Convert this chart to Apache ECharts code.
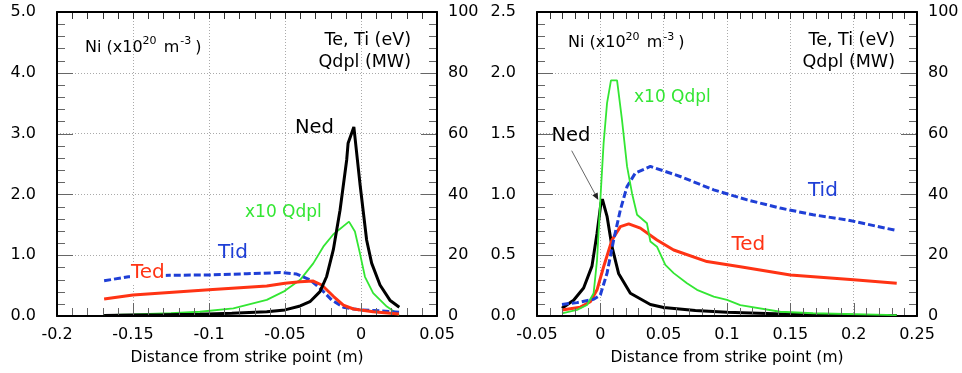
<!DOCTYPE html>
<html><head><meta charset="utf-8">
<script src="https://cdn.jsdelivr.net/npm/echarts@6/dist/echarts.min.js"></script>
<style>html,body{margin:0;padding:0;background:#fff}#c{width:962px;height:373px}</style>
</head><body><div id="c"></div>
<script>
const FONT = '"DejaVu Sans", Verdana, sans-serif';

// ---------- Left panel data: [distance (m), value] ----------
const nedLeft = [[-0.169,0.01],[-0.15,0.015],[-0.13,0.02],[-0.106,0.03],[-0.085,0.045],[-0.062,0.07],[-0.05,0.1],[-0.040,0.165],[-0.0336,0.235],[-0.027,0.40],[-0.0226,0.65],[-0.0182,1.09],[-0.0138,1.74],[-0.0094,2.57],[-0.0085,2.84],[-0.0047,3.11],[-0.0007,2.18],[0.0037,1.25],[0.007,0.87],[0.0125,0.51],[0.019,0.26],[0.0252,0.143]];
const qdplLeft = [[-0.169,0.3],[-0.15,0.5],[-0.125,0.9],[-0.106,1.4],[-0.084,2.5],[-0.062,5.3],[-0.051,8],[-0.040,11.9],[-0.0314,17.3],[-0.0248,22.8],[-0.0183,26.8],[-0.0079,31.05],[-0.004,27.8],[-0.0007,20.6],[0.0026,12.9],[0.008,7.5],[0.017,3.1],[0.025,0.3]];
const tedLeft = [[-0.169,5.6],[-0.15,6.9],[-0.1,8.6],[-0.062,9.9],[-0.05,10.8],[-0.040,11.3],[-0.0314,11.5],[-0.0258,10.2],[-0.018,6.4],[-0.0116,3.6],[-0.005,2.3],[0.008,1.4],[0.025,0.66]];
const tidLeft = [[-0.169,11.6],[-0.153,12.9],[-0.126,13.4],[-0.1,13.5],[-0.075,13.9],[-0.053,14.3],[-0.0423,13.8],[-0.0336,11.9],[-0.0258,8.6],[-0.0193,5.3],[-0.0116,2.9],[-0.0007,2.0],[0.0125,1.7],[0.025,1.2]];

// ---------- Right panel data ----------
const nedRight = [[-0.0303,0.063],[-0.0211,0.13],[-0.0132,0.23],[-0.0066,0.41],[-0.0026,0.68],[0.0005,0.93],[0.0016,0.96],[0.0053,0.82],[0.0092,0.57],[0.0144,0.35],[0.0237,0.187],[0.0395,0.095],[0.05,0.07],[0.075,0.045],[0.1,0.03],[0.15,0.015],[0.2,0.007],[0.234,0.004]];
const qdplRight = [[-0.0303,0.9],[-0.0184,2],[-0.0105,3.6],[-0.0053,7.5],[-0.0026,18.4],[0,38.2],[0.0026,56.9],[0.0053,70],[0.0084,77.5],[0.0132,77.5],[0.0171,64.5],[0.0211,49.2],[0.025,40.4],[0.029,33.3],[0.0368,30.5],[0.0395,24.5],[0.0447,22.8],[0.0513,16.8],[0.0579,14.1],[0.0684,10.8],[0.0763,8.6],[0.0895,6.4],[0.1,5.3],[0.1105,3.6],[0.142,1.4],[0.168,0.9],[0.234,0.3]];
const tedRight = [[-0.0303,2.0],[-0.0158,2.9],[-0.0079,4.7],[-0.0026,8.6],[0.0026,16.2],[0.0092,25],[0.0158,29.4],[0.0224,30.3],[0.0316,28.9],[0.0447,25],[0.0579,21.7],[0.0842,17.9],[0.1105,16.2],[0.15,13.5],[0.2,11.9],[0.234,10.8]];
const tidRight = [[-0.0303,3.8],[-0.0184,4.4],[-0.0053,5.5],[0,6.9],[0.0053,14.1],[0.0105,25],[0.0158,34.9],[0.0211,42.6],[0.0276,47],[0.0395,49.2],[0.063,45.9],[0.0895,41.5],[0.116,38.2],[0.142,35.5],[0.168,33.3],[0.195,31.6],[0.234,28.1]];

// axis ranges
const xRangeLeft = [-0.2, 0.05];
const xRangeRight = [-0.05, 0.25];
const xStep = 0.01;
const nRangeLeft = [0, 5], nIntLeft = 1;
const nRangeRight = [0, 2.5], nIntRight = 0.5;
const tRange = [0, 100], tInt = 20;

const BLACK = '#000', RED = '#ff3314', BLUE = '#1f3fd6', GREEN = '#33e633';
const TICKC = '#666666';

function xAxes(gi, range) {
  return [{
    gridIndex: gi, type: 'value', min: range[0], max: range[1], interval: 0.05, position: 'bottom',
    axisLine: {show: true, onZero: false, lineStyle: {color: '#000', width: 2}},
    axisTick: {show: false}, minorTick: {show: false},
    splitLine: {show: true, lineStyle: {color: '#aaa', type: [1, 2], width: 1}},
    axisLabel: {fontFamily: FONT, fontSize: 16, color: '#000', margin: 11, showMinLabel: true, showMaxLabel: true},
    name: 'Distance from strike point (m)', nameLocation: 'middle', nameGap: 34,
    nameTextStyle: {fontFamily: FONT, fontSize: 15.5, color: '#000'}
  }, {
    gridIndex: gi, type: 'value', min: range[0], max: range[1], interval: 0.05, position: 'top',
    axisLine: {show: true, onZero: false, lineStyle: {color: '#000', width: 2}},
    axisTick: {show: false}, minorTick: {show: false},
    splitLine: {show: false}, axisLabel: {show: false}
  }];
}
function yAxes(gi, nRange, nInt) {
  return [{
    gridIndex: gi, type: 'value', min: nRange[0], max: nRange[1], interval: nInt, position: 'left',
    axisLine: {show: true, onZero: false, lineStyle: {color: '#000', width: 2}},
    axisTick: {show: false}, minorTick: {show: false},
    splitLine: {show: true, lineStyle: {color: '#aaa', type: [1, 2], width: 1}},
    axisLabel: {fontFamily: FONT, fontSize: 16, color: '#000', margin: 21, padding: [9, 0, 0, 0],
      formatter: v => v.toFixed(1), showMinLabel: true, showMaxLabel: true}
  }, {
    gridIndex: gi, type: 'value', min: tRange[0], max: tRange[1], interval: tInt, position: 'right',
    axisLine: {show: true, onZero: false, lineStyle: {color: '#000', width: 2}},
    axisTick: {show: false}, minorTick: {show: false},
    splitLine: {show: false},
    axisLabel: {fontFamily: FONT, fontSize: 16, color: '#000', margin: 11, padding: [2, 0, 0, 0], showMinLabel: true, showMaxLabel: true}
  }];
}
function line(data, xi, yi, color, width, dash) {
  return {type: 'line', data: data, xAxisIndex: xi, yAxisIndex: yi, showSymbol: false,
    lineStyle: {color: color, width: width, type: dash || 'solid'}};
}

// text measuring for composed labels
const mctx = document.createElement('canvas').getContext('2d');
function tw(t, size) { mctx.font = size + 'px ' + FONT; return mctx.measureText(t).width; }
function txt(t, x, y, size, color, align, extra) {
  return {type: 'text', x: x, y: y, z: 50,
    style: Object.assign({text: t, fontSize: size, fontFamily: FONT, fill: color, align: align || 'left', verticalAlign: 'middle'}, extra || {})};
}
function niLabel(x0, yc) {
  const parts = [['Ni (x10', 16, 0, 0], ['20', 11, -6, 0], [' m', 16, 0, 2], ['-3', 11, -6, 1], [')', 16, 0, 4]];
  const out = []; let x = x0;
  parts.forEach(p => {
    x += p[3];
    out.push(txt(p[0], x, yc + p[2], p[1], '#000', 'left'));
    x += tw(p[0], p[1]);
  });
  return out;
}

const chart = echarts.init(document.getElementById('c'));
chart.setOption({
  animation: false,
  backgroundColor: '#fff',
  grid: [
    {left: 57, top: 12, width: 380, height: 304},
    {left: 537, top: 12, width: 380, height: 304}
  ],
  xAxis: [...xAxes(0, xRangeLeft), ...xAxes(1, xRangeRight)],
  yAxis: [...yAxes(0, nRangeLeft, nIntLeft), ...yAxes(1, nRangeRight, nIntRight)],
  series: [
    line(qdplLeft, 0, 1, GREEN, 1.8),
    line(tidLeft, 0, 1, BLUE, 3, [7, 3]),
    line(tedLeft, 0, 1, RED, 3),
    line(nedLeft, 0, 0, BLACK, 3),
    line(nedRight, 2, 2, BLACK, 3),
    line(tedRight, 2, 3, RED, 3),
    line(tidRight, 2, 3, BLUE, 3, [7, 3]),
    line(qdplRight, 2, 3, GREEN, 1.8)
  ]
});

// inside tick marks on all four sides, positioned through the axes' own scales
function seg(x1, y1, x2, y2, c) {
  return {type: 'polyline', z: 40, silent: true, shape: {points: [[x1, y1], [x2, y2]]}, style: {stroke: c, lineWidth: 1, fill: null}};
}
function toPx(xi, yi, x, y) {
  const p = chart.convertToPixel({xAxisIndex: xi, yAxisIndex: yi}, [x, y]);
  return Array.isArray(p) ? [Number(p[0]), Number(p[1])] : [NaN, NaN];
}
function tickMarks() {
  const els = [];
  const panels = [
    {xb: 0, yl: 0, xr: xRangeLeft, nr: nRangeLeft, ni: nIntLeft},
    {xb: 2, yl: 2, xr: xRangeRight, nr: nRangeRight, ni: nIntRight}
  ];
  panels.forEach(p => {
    const lb = toPx(p.xb, p.yl, p.xr[0], p.nr[0]);
    const rt = toPx(p.xb, p.yl, p.xr[1], p.nr[1]);
    const L = lb[0], B = lb[1], R = rt[0], T = rt[1];
    if (!isFinite(L + B + R + T)) return;
    const nx = Math.round((p.xr[1] - p.xr[0]) / xStep);
    for (let k = 1; k < nx; k++) {
      const x = Math.round(toPx(p.xb, p.yl, p.xr[0] + k * xStep, p.nr[0])[0]) + 0.5;
      const major = k % 5 === 0;
      els.push(seg(x, B - 1, x, B - 1 - (major ? 12 : 7), TICKC));
      els.push(seg(x, T + 1, x, T + 7, '#333'));
    }
    const yStep = p.ni / 5;
    const ny = Math.round((p.nr[1] - p.nr[0]) / yStep);
    for (let k = 1; k < ny; k++) {
      const y = Math.round(toPx(p.xb, p.yl, p.xr[0], p.nr[0] + k * yStep)[1]) + 0.5;
      const len = (k % 5 === 0) ? 15 : 7;
      els.push(seg(L + 1, y, L + 1 + len, y, TICKC));
      els.push(seg(R - 1, y, R - 1 - len, y, TICKC));
    }
  });
  return els;
}

const ax = 571.7, ay = 150.7, bx = 598.3, by = 200;
const dl = Math.hypot(bx - ax, by - ay), ux = (bx - ax) / dl, uy = (by - ay) / dl;
const hx = bx - 7 * ux, hy = by - 7 * uy;
chart.setOption({
  graphic: [
    ...tickMarks(),
    ...niLabel(85, 47.5),
    txt('Te, Ti (eV)', 411, 40, 17.5, '#000', 'right'),
    txt('Qdpl (MW)', 411, 62, 17.5, '#000', 'right'),
    txt('Ned', 295, 128, 19.5, '#000'),
    txt('x10 Qdpl', 245, 213, 17, GREEN),
    txt('Tid', 218, 252.5, 20, BLUE),
    txt('Ted', 130, 273, 20, RED, 'left', {backgroundColor: '#fff', padding: [0, 1, 0, 1]}),
    ...niLabel(568, 43),
    txt('Te, Ti (eV)', 895, 40, 17.5, '#000', 'right'),
    txt('Qdpl (MW)', 895, 62, 17.5, '#000', 'right'),
    txt('Ned', 551.5, 135.5, 19.5, '#000'),
    txt('x10 Qdpl', 634, 98, 17, GREEN),
    txt('Tid', 808, 190.5, 20, BLUE),
    txt('Ted', 731.5, 245, 20, RED),
    {type: 'line', z: 60, shape: {x1: ax, y1: ay, x2: hx, y2: hy}, style: {stroke: '#666', lineWidth: 1}},
    {type: 'polygon', z: 60, shape: {points: [[bx, by], [hx - 3 * uy, hy + 3 * ux], [hx + 3 * uy, hy - 3 * ux]]}, style: {fill: '#222'}}
  ]
});
</script></body></html>
